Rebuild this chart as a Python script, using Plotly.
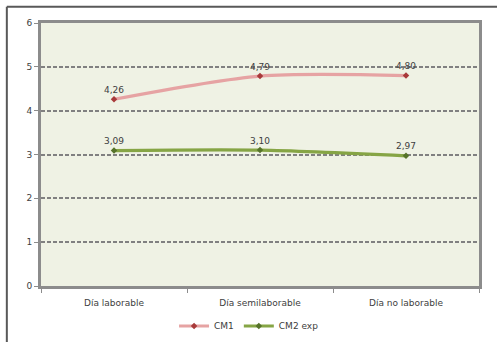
import plotly.graph_objects as go

categories = ["Día laborable", "Día semilaborable", "Día no laborable"]
cm1 = [4.26, 4.79, 4.80]
cm2_exp = [3.09, 3.10, 2.97]
y_ticks = [0, 1, 2, 3, 4, 5, 6]

font = dict(family="DejaVu Sans", size=9, color="#404040")

fig = go.Figure()
fig.add_trace(go.Scatter(
    x=categories, y=cm1, name="CM1",
    mode="lines+markers+text",
    line=dict(color="#E6A3A3", width=3.2, shape="spline", smoothing=0.8),
    marker=dict(color="#A83A3A", size=5, symbol="diamond"),
    text=[f"{v:.2f}".replace(".", ",") for v in cm1],
    textposition="top center", textfont=font,
))
fig.add_trace(go.Scatter(
    x=categories, y=cm2_exp, name="CM2 exp",
    mode="lines+markers+text",
    line=dict(color="#86A545", width=3.2, shape="spline", smoothing=0.8),
    marker=dict(color="#56732A", size=5, symbol="diamond"),
    text=[f"{v:.2f}".replace(".", ",") for v in cm2_exp],
    textposition="top center", textfont=font,
))

fig.update_layout(
    width=497, height=342,
    margin=dict(l=41, r=18, t=23, b=56, autoexpand=False),
    paper_bgcolor="white",
    plot_bgcolor="#EFF2E4",
    font=font,
    separators=",.",
    showlegend=True,
    legend=dict(orientation="h", x=0.475, y=-0.152, xanchor="center", yanchor="middle",
                font=dict(family="DejaVu Sans", size=9, color="#404040"),
                itemwidth=30, tracegroupgap=0),
    xaxis=dict(
        type="category", range=[-0.5, 2.5], showgrid=False, zeroline=False,
        showline=True, linecolor="#8C8C8C", linewidth=3, mirror=True,
        ticks="outside", tickson="boundaries", ticklen=4, tickcolor="#8C8C8C",
        tickfont=font, ticklabelstandoff=6,
    ),
    yaxis=dict(
        range=[0, 6], tickvals=y_ticks, ticktext=[str(v) for v in y_ticks],
        showgrid=True, gridcolor="#808080", griddash="4px,2px", gridwidth=1.8,
        zeroline=False, showline=True, linecolor="#8C8C8C", linewidth=3, mirror=True,
        ticks="outside", ticklen=4, tickcolor="#8C8C8C", tickfont=font,
    ),
    shapes=[
        # chart frame (left and top edges visible)
        dict(type="line", xref="paper", yref="paper",
             x0=-0.078, x1=-0.078, y0=1.062, y1=-0.4,
             line=dict(color="#595959", width=2)),
        dict(type="line", xref="paper", yref="paper",
             x0=-0.078, x1=1.06, y0=1.062, y1=1.062,
             line=dict(color="#595959", width=2)),
    ],
)

fig.write_html("out.html")
